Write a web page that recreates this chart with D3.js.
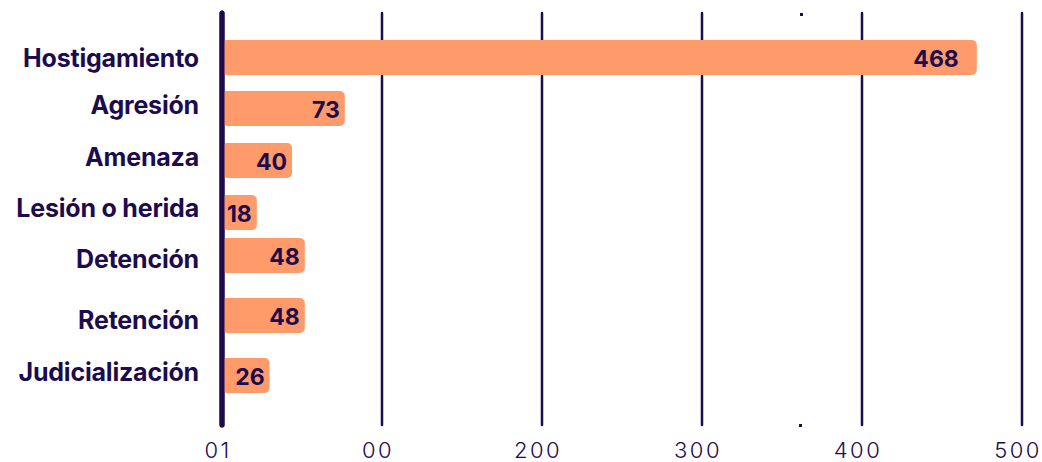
<!DOCTYPE html>
<html>
<head>
  <style>
    body {
      margin: 0;
      background: #fff;
    }
  </style>
</head>
<body>
  <div id="chart"></div>
  <script src="https://d3js.org/d3.v7.min.js"></script>
  <script>
  // data
  const categories = ["Hostigamiento", "Agresión", "Amenaza", "Lesión o herida", "Detención", "Retención", "Judicialización"];
  const values = [468, 73, 40, 18, 48, 48, 26];
  const tickValues = [0, 100, 200, 300, 400, 500];
  const tickLabels = ["01", "00", "200", "300", "400", "500"];

  const width = 1042, height = 462;
  const navy = "#1c0b4d", orange = "#ff9a6a";

  const svg = d3.select("#chart")
    .append("svg")
      .attr("width", width)
      .attr("height", height);

  const x = d3.scaleLinear()
    .domain([0, 500])
    .range([222, 1022]);

  // rows are not evenly spaced in the original, so map them by hand
  const barY = d3.scaleOrdinal()
    .domain(categories)
    .range([40, 91, 143, 195, 238, 298, 358]);
  const labelY = d3.scaleOrdinal()
    .domain(categories)
    .range([67, 114, 166, 217, 268, 329, 381]);
  const barH = 35;

  // grid lines
  svg.append("g")
    .selectAll("line")
    .data(tickValues)
    .join("line")
      .attr("x1", d => x(d))
      .attr("x2", d => x(d))
      .attr("y1", 13)
      .attr("y2", 425)
      .attr("stroke", navy)
      .attr("stroke-width", d => d === 0 ? 5 : 2.5)
      .attr("stroke-linecap", "round");

  // stray dots
  svg.append("rect").attr("x", 800).attr("y", 13).attr("width", 3).attr("height", 3).attr("fill", navy);
  svg.append("rect").attr("x", 799).attr("y", 424).attr("width", 3).attr("height", 3).attr("fill", navy);

  // bars
  svg.append("g")
    .selectAll("rect")
    .data(categories)
    .join("rect")
      .attr("x", x(0))
      .attr("y", d => barY(d))
      .attr("width", (d, i) => x(values[i]) - x(0) + 6)
      .attr("height", barH)
      .attr("rx", 5)
      .attr("fill", orange);

  // redraw zero line on top of bars
  svg.append("line")
    .attr("x1", x(0)).attr("x2", x(0))
    .attr("y1", 13).attr("y2", 425)
    .attr("stroke", navy)
    .attr("stroke-width", 5)
    .attr("stroke-linecap", "round");

  // value labels
  svg.append("g")
    .selectAll("text")
    .data(categories)
    .join("text")
      .attr("x", (d, i) => x(values[i]) + (values[i] > 100 ? -12 : 1))
      .attr("y", d => barY(d) + barH / 2 + 9)
      .attr("text-anchor", "end")
      .attr("font-family", "Inter")
      .attr("font-weight", 700)
      .attr("font-size", 23)
      .attr("fill", navy)
      .text((d, i) => values[i]);

  // category labels
  svg.append("g")
    .selectAll("text")
    .data(categories)
    .join("text")
      .attr("x", 199)
      .attr("y", d => labelY(d))
      .attr("text-anchor", "end")
      .attr("font-family", "Inter")
      .attr("font-weight", 700)
      .attr("font-size", 25)
      .attr("letter-spacing", -0.2)
      .attr("fill", navy)
      .text(d => d);

  // axis tick labels
  svg.append("g")
    .selectAll("text")
    .data(tickValues)
    .join("text")
      .attr("x", d => x(d) - 4)
      .attr("y", 458)
      .attr("text-anchor", "middle")
      .attr("font-family", "Inter")
      .attr("font-weight", 300)
      .attr("font-size", 22)
      .attr("letter-spacing", 2.5)
      .attr("fill", navy)
      .text((d, i) => tickLabels[i]);
  </script>
</body>
</html>
